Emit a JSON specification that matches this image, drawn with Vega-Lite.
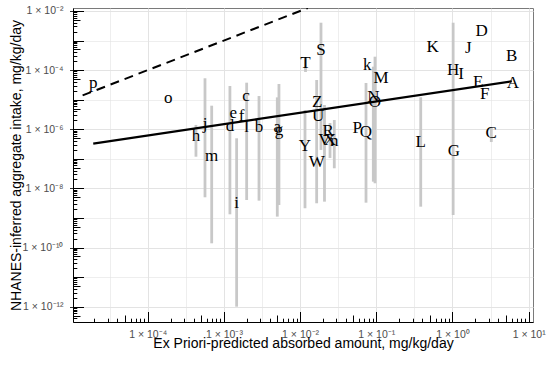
{
  "$schema": "https://vega.github.io/schema/vega-lite/v6.json",
  "width": 460,
  "height": 314,
  "autosize": {"type": "none"},
  "padding": {"left": 73, "top": 8, "right": 17, "bottom": 43},
  "background": "white",
  "config": {
    "view": {"stroke": "#7a7a7a", "strokeWidth": 1},
    "axis": {
      "labelFont": "Liberation Sans",
      "labelFontSize": 10.5,
      "labelColor": "#4d4d4d",
      "titleFont": "Liberation Sans",
      "titleFontSize": 14,
      "titleFontWeight": "normal",
      "titleColor": "black",
      "domainColor": "black",
      "domainWidth": 1,
      "tickColor": "black",
      "tickWidth": 1,
      "gridColor": "#e3e3e3",
      "labelOverlap": false,
      "labelFlush": false,
      "labelBound": false
    }
  },
  "resolve": {"axis": {"x": "independent", "y": "independent"}},
  "datasets": {
    "pts": [
      {"label": "A", "x": 6.22, "y": 3.76e-5, "lo": null, "hi": null},
      {"label": "B", "x": 5.98, "y": 3.08e-4, "lo": null, "hi": null},
      {"label": "C", "x": 3.23, "y": 7.66e-7, "lo": 3.7e-7, "hi": 1.1e-6},
      {"label": "D", "x": 2.42, "y": 2.16e-3, "lo": null, "hi": null},
      {"label": "E", "x": 2.18, "y": 4.06e-5, "lo": null, "hi": null},
      {"label": "F", "x": 2.65, "y": 1.5e-5, "lo": null, "hi": null},
      {"label": "G", "x": 1.046, "y": 1.84e-7, "lo": null, "hi": null},
      {"label": "H", "x": 1.02, "y": 1.04e-4, "lo": 1.26e-9, "hi": 4.02e-3},
      {"label": "I", "x": 1.3, "y": 7.4e-5, "lo": null, "hi": null},
      {"label": "J", "x": 1.61, "y": 5.48e-4, "lo": null, "hi": null},
      {"label": "K", "x": 0.549, "y": 5.92e-4, "lo": null, "hi": null},
      {"label": "L", "x": 0.383, "y": 3.8e-7, "lo": 2.41e-9, "hi": 1.21e-5},
      {"label": "M", "x": 0.1153, "y": 5.42e-5, "lo": null, "hi": null},
      {"label": "N", "x": 0.0914, "y": 1.26e-5, "lo": 1.69e-8, "hi": 1.31e-4},
      {"label": "O", "x": 0.0962, "y": 8.57e-6, "lo": 1.49e-8, "hi": 2.85e-4},
      {"label": "P", "x": 0.0564, "y": 1.08e-6, "lo": null, "hi": null},
      {"label": "Q", "x": 0.0733, "y": 8.28e-7, "lo": 3.29e-9, "hi": 3.67e-5},
      {"label": "R", "x": 0.0234, "y": 8.95e-7, "lo": null, "hi": null},
      {"label": "S", "x": 0.0188, "y": 4.8e-4, "lo": 2.0e-7, "hi": 4.02e-3},
      {"label": "T", "x": 0.01178, "y": 1.81e-4, "lo": 8.65e-5, "hi": 2.78e-4},
      {"label": "U", "x": 0.0173, "y": 2.81e-6, "lo": null, "hi": null},
      {"label": "V", "x": 0.0209, "y": 4.34e-7, "lo": 3.56e-9, "hi": 6.62e-6},
      {"label": "W", "x": 0.0165, "y": 8.02e-8, "lo": 3.14e-9, "hi": 4.64e-5},
      {"label": "X", "x": 0.0247, "y": 4.17e-7, "lo": 1.07e-7, "hi": 1.63e-6},
      {"label": "Y", "x": 0.0116, "y": 2.79e-7, "lo": 2.13e-9, "hi": 4.49e-6},
      {"label": "Z", "x": 0.0168, "y": 8.57e-6, "lo": null, "hi": null},
      {"label": "a", "x": 5.02e-3, "y": 1.19e-6, "lo": 1.11e-9, "hi": 1.2e-5},
      {"label": "b", "x": 2.89e-3, "y": 1.19e-6, "lo": 3.85e-9, "hi": 1.33e-5},
      {"label": "c", "x": 1.95e-3, "y": 1.33e-5, "lo": null, "hi": null},
      {"label": "d", "x": 1.2e-3, "y": 1.34e-6, "lo": 1.33e-9, "hi": 2.91e-5},
      {"label": "e", "x": 1.33e-3, "y": 3.42e-6, "lo": null, "hi": null},
      {"label": "f", "x": 1.71e-3, "y": 2.92e-6, "lo": null, "hi": null},
      {"label": "g", "x": 5.28e-3, "y": 9.1e-7, "lo": 2.75e-9, "hi": 3.4e-5},
      {"label": "h", "x": 4.3e-4, "y": 6.07e-7, "lo": 1.18e-7, "hi": 1.4e-6},
      {"label": "i", "x": 1.47e-3, "y": 3.21e-9, "lo": 1e-12, "hi": 4.95e-7},
      {"label": "j", "x": 5.65e-4, "y": 1.51e-6, "lo": 5.0e-9, "hi": 5.3e-5},
      {"label": "k", "x": 0.0762, "y": 1.49e-4, "lo": null, "hi": null},
      {"label": "l", "x": 1.99e-3, "y": 1.15e-6, "lo": 4.05e-9, "hi": 3.76e-5},
      {"label": "m", "x": 6.92e-4, "y": 1.25e-7, "lo": 1.39e-10, "hi": 6.27e-6},
      {"label": "n", "x": 0.0281, "y": 4.02e-7, "lo": 4.79e-8, "hi": 2.06e-6},
      {"label": "o", "x": 1.86e-4, "y": 1.12e-5, "lo": null, "hi": null},
      {"label": "p", "x": 1.93e-5, "y": 3.6e-5, "lo": null, "hi": null}
    ],
    "fit": [
      {"x": 1.93e-5, "y": 3.27e-7},
      {"x": 6.0, "y": 4.2e-5}
    ],
    "identity": [
      {"x": 1.4e-5, "y": 1.4e-5},
      {"x": 0.0126, "y": 0.0126}
    ]
  },
  "layer": [
    {
      "data": {"name": "pts"},
      "transform": [{"filter": "isValid(datum.lo)"}],
      "mark": {"type": "rule", "color": "#c8c8c8", "strokeWidth": 2.8},
      "encoding": {
        "x": {
          "field": "x", "type": "quantitative",
          "title": "Ex Priori-predicted absorbed amount, mg/kg/day",
          "scale": {"type": "log", "domain": [1.047e-5, 11.39], "nice": false},
          "axis": {
            "orient": "bottom",
            "values": [3.16228e-5, 1e-4, 3.16228e-4, 1e-3, 3.16228e-3, 1e-2, 3.16228e-2, 0.1, 0.316228, 1, 3.16228, 10],
            "ticks": false,
            "grid": true,
            "gridWidth": {"condition": {"test": "abs(log(datum.value)/LN10 - round(log(datum.value)/LN10)) < 0.001", "value": 1}, "value": 0.6},
            "labelExpr": "abs(log(datum.value)/LN10 - round(log(datum.value)/LN10)) < 0.001 ? '1 × 10' + replace(replace(replace(replace(replace(replace(replace(replace(replace(replace(replace(toString(round(log(datum.value)/LN10)),'-','⁻'),'0','⁰'),'1','¹'),'2','²'),'3','³'),'4','⁴'),'5','⁵'),'6','⁶'),'7','⁷'),'8','⁸'),'9','⁹') : ''",
            "labelPadding": 12.5,
            "labelBaseline": "middle",
            "titleY": 25,
            "titleBaseline": "alphabetic"
          }
        },
        "y": {
          "field": "lo", "type": "quantitative",
          "title": "NHANES-inferred aggregate intake, mg/kg/day",
          "scale": {"type": "log", "domain": [3.03e-13, 0.01263], "nice": false},
          "axis": {
            "orient": "left",
            "values": [1e-12, 1e-11, 1e-10, 1e-9, 1e-8, 1e-7, 1e-6, 1e-5, 1e-4, 1e-3, 1e-2],
            "tickSize": 3.5,
            "tickColor": "#333333",
            "tickOpacity": {"condition": {"test": "abs(round(log(datum.value)/LN10) % 2) < 0.5", "value": 1}, "value": 0},
            "grid": true,
            "gridWidth": {"condition": {"test": "abs(round(log(datum.value)/LN10) % 2) < 0.5", "value": 1}, "value": 0.6},
            "labelExpr": "abs(round(log(datum.value)/LN10) % 2) < 0.5 ? '1 × 10' + replace(replace(replace(replace(replace(replace(replace(replace(replace(replace(replace(toString(round(log(datum.value)/LN10)),'-','⁻'),'0','⁰'),'1','¹'),'2','²'),'3','³'),'4','⁴'),'5','⁵'),'6','⁶'),'7','⁷'),'8','⁸'),'9','⁹') : ''",
            "labelPadding": 6.5,
            "titleX": -52.5,
            "titleY": 157,
            "titleAngle": -90,
            "titleAlign": "center",
            "titleBaseline": "alphabetic"
          }
        },
        "y2": {"field": "hi"}
      }
    },
    {
      "data": {"name": "identity"},
      "mark": {"type": "line", "color": "black", "strokeWidth": 2, "strokeDash": [9, 6], "clip": true},
      "encoding": {
        "x": {
          "field": "x", "type": "quantitative",
          "axis": {
            "orient": "top",
            "offset": -314,
            "title": null,
            "domain": false,
            "labels": false,
            "grid": false,
            "values": [2e-5, 3e-5, 4e-5, 5e-5, 6e-5, 7e-5, 8e-5, 9e-5,
              1e-4, 2e-4, 3e-4, 4e-4, 5e-4, 6e-4, 7e-4, 8e-4, 9e-4,
              1e-3, 2e-3, 3e-3, 4e-3, 5e-3, 6e-3, 7e-3, 8e-3, 9e-3,
              1e-2, 2e-2, 3e-2, 4e-2, 5e-2, 6e-2, 7e-2, 8e-2, 9e-2,
              0.1, 0.2, 0.3, 0.4, 0.5, 0.6, 0.7, 0.8, 0.9,
              1, 2, 3, 4, 5, 6, 7, 8, 9, 10],
            "tickSize": {"expr": "abs(log(datum.value)/LN10 - round(log(datum.value)/LN10)) < 0.001 ? 10.5 : (abs(log(datum.value)/LN10 - floor(log(datum.value)/LN10) - 0.69897) < 0.001 ? 7 : 3.8)"}
          }
        },
        "y": {
          "field": "y", "type": "quantitative",
          "axis": {
            "orient": "right",
            "offset": -460,
            "title": null,
            "domain": false,
            "labels": false,
            "grid": false,
            "values": [4e-13, 5e-13, 6e-13, 7e-13, 8e-13, 9e-13,
              1e-12, 2e-12, 3e-12, 4e-12, 5e-12, 6e-12, 7e-12, 8e-12, 9e-12,
              1e-11, 2e-11, 3e-11, 4e-11, 5e-11, 6e-11, 7e-11, 8e-11, 9e-11,
              1e-10, 2e-10, 3e-10, 4e-10, 5e-10, 6e-10, 7e-10, 8e-10, 9e-10,
              1e-9, 2e-9, 3e-9, 4e-9, 5e-9, 6e-9, 7e-9, 8e-9, 9e-9,
              1e-8, 2e-8, 3e-8, 4e-8, 5e-8, 6e-8, 7e-8, 8e-8, 9e-8,
              1e-7, 2e-7, 3e-7, 4e-7, 5e-7, 6e-7, 7e-7, 8e-7, 9e-7,
              1e-6, 2e-6, 3e-6, 4e-6, 5e-6, 6e-6, 7e-6, 8e-6, 9e-6,
              1e-5, 2e-5, 3e-5, 4e-5, 5e-5, 6e-5, 7e-5, 8e-5, 9e-5,
              1e-4, 2e-4, 3e-4, 4e-4, 5e-4, 6e-4, 7e-4, 8e-4, 9e-4,
              1e-3, 2e-3, 3e-3, 4e-3, 5e-3, 6e-3, 7e-3, 8e-3, 9e-3,
              1e-2],
            "tickSize": {"expr": "abs(log(datum.value)/LN10 - round(log(datum.value)/LN10)) < 0.001 ? 10.5 : (abs(log(datum.value)/LN10 - floor(log(datum.value)/LN10) - 0.69897) < 0.001 ? 7 : 3.8)"}
          }
        }
      }
    },
    {
      "data": {"name": "fit"},
      "mark": {"type": "line", "color": "black", "strokeWidth": 2.2},
      "encoding": {
        "x": {"field": "x", "type": "quantitative", "axis": null},
        "y": {"field": "y", "type": "quantitative", "axis": null}
      }
    },
    {
      "data": {"name": "pts"},
      "mark": {"type": "text", "font": "Liberation Serif", "fontSize": 17, "baseline": "middle", "align": "center", "color": "black"},
      "encoding": {
        "x": {"field": "x", "type": "quantitative", "axis": null},
        "y": {"field": "y", "type": "quantitative", "axis": null},
        "text": {"field": "label"}
      }
    }
  ]
}
